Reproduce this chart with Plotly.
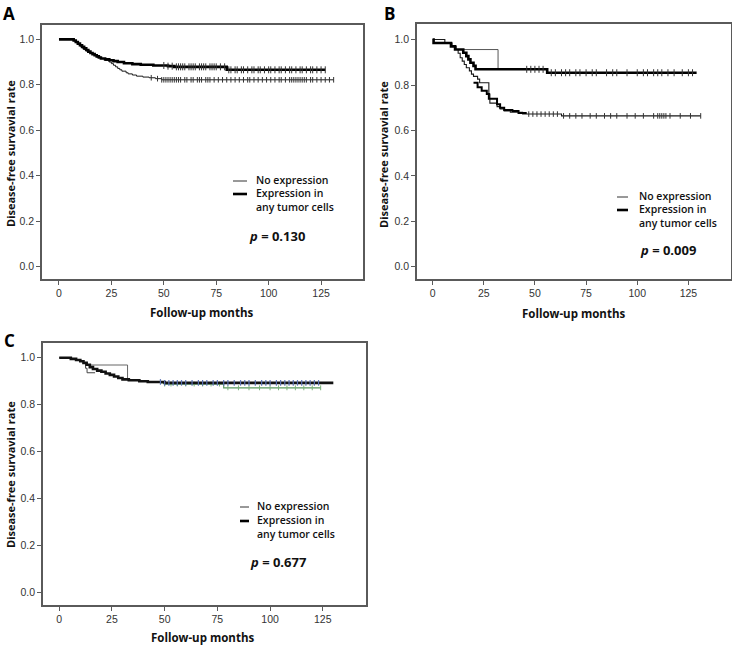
import plotly.graph_objects as go

# ---------------- data ----------------
# Panel A
a_no_t = [0, 7, 8, 9, 10, 11, 12, 13, 14, 16, 17, 18, 20, 22, 24, 25, 26, 27, 28, 29, 30, 32, 33, 35, 37, 40, 43, 46, 49]
a_no_s = [1.0, 0.993, 0.985, 0.978, 0.970, 0.962, 0.955, 0.948, 0.942, 0.935, 0.928, 0.922, 0.915, 0.907, 0.900, 0.893, 0.886, 0.879, 0.872, 0.866, 0.860, 0.853, 0.848, 0.843, 0.838, 0.834, 0.831, 0.827, 0.822]
a_no_end = 131
a_no_cens = [44, 47, 49, 50, 51, 52, 53, 54, 55, 56, 57, 58, 60, 61, 63, 64, 66, 67, 68, 70, 71, 72, 74, 76, 78, 80, 82, 84,
             86, 88, 90, 91, 93, 95, 97, 99, 101, 103, 105, 106, 108, 110, 111, 112, 113, 114, 115, 116, 117, 118, 120,
             121, 123, 125, 127, 129, 131]
a_ex_t = [0, 7, 8, 9, 10, 11, 12, 13, 14, 15, 16, 17, 18, 19, 20, 22, 24, 26, 28, 31, 35, 39, 45, 52, 55, 80]
a_ex_s = [1.0, 0.995, 0.988, 0.981, 0.974, 0.967, 0.960, 0.953, 0.946, 0.940, 0.935, 0.930, 0.925, 0.920, 0.916, 0.912, 0.908, 0.904, 0.900, 0.895, 0.891, 0.888, 0.885, 0.882, 0.879, 0.866]
a_ex_end = 127
a_ex_cens = [50, 52, 54, 56, 57, 58, 59, 60, 62, 63, 64, 65, 67, 68, 69, 70, 72, 73, 74, 75, 77, 79, 81, 82, 84, 85, 87, 88,
             90, 92, 93, 95, 96, 98, 100, 101, 103, 105, 106, 108, 110, 111, 113, 115, 116, 118, 120, 121, 123, 125, 127]

# Panel B
b_no_t = [0, 6, 9.5, 11.5, 12.5, 13.5, 14.5, 15.5, 16.5, 18, 19, 20, 22, 23, 27.5, 28, 31.5, 33, 35, 38, 44, 63]
b_no_s = [1.0, 0.985, 0.970, 0.956, 0.940, 0.920, 0.905, 0.890, 0.876, 0.862, 0.848, 0.838, 0.826, 0.810, 0.760, 0.720, 0.705, 0.695, 0.686, 0.680, 0.672, 0.664]
b_no_end = 131
b_no_cens = [47, 49, 51, 53, 55, 57, 59, 61, 64, 67, 70, 73, 77, 80, 84, 87, 90, 95, 99, 103, 108, 110, 111, 112, 113, 114,
             116, 121, 126, 131]
b_no2_t = [20, 22, 24, 26.5, 27.5, 31.5, 33, 35, 39, 42]
b_no2_s = [0.810, 0.790, 0.775, 0.760, 0.740, 0.715, 0.700, 0.690, 0.685, 0.677]
b_no2_end = 46
b_ex_t = [0, 0.5, 9, 11, 15, 16.5, 17.5, 18.5, 20, 21, 56]
b_ex_s = [1.0, 0.985, 0.970, 0.956, 0.942, 0.927, 0.913, 0.898, 0.884, 0.869, 0.854]
b_ex_end = 129
b_ex_cens = [46, 48, 50, 52, 54, 58, 60, 63, 65, 67, 70, 72, 75, 78, 80, 85, 88, 90, 95, 100, 103, 105, 108, 110, 112, 115,
             118, 122, 125, 127]
b_box_t = [15, 32, 32]
b_box_s = [0.956, 0.956, 0.869]

# Panel C
c_ex_t = [0, 5.5, 8, 10, 11.5, 13, 14.5, 16, 18, 20, 22, 24, 26, 28, 30, 33, 38, 42, 50]
c_ex_s = [1.0, 0.995, 0.990, 0.985, 0.978, 0.970, 0.960, 0.952, 0.945, 0.940, 0.933, 0.927, 0.920, 0.914, 0.908, 0.904, 0.900, 0.897, 0.893]
c_ex_end = 130
c_ex_cens = [48, 50, 52, 54, 56, 58, 60, 63, 66, 68, 70, 73, 75, 78, 80, 83, 86, 88, 90, 93, 96, 98, 100, 103, 105, 107,
             109, 111, 113, 115, 117, 119, 121, 123]
c_no_t = [0, 5.5, 8, 10, 11.5, 12.5, 13.2]
c_no_s = [1.0, 0.995, 0.990, 0.985, 0.978, 0.955, 0.936]
c_no_end = 17
c_box_t = [14, 32.4, 32.4]
c_box_s = [0.969, 0.969, 0.904]
c_gr_t = [48, 50, 78]
c_gr_s = [0.893, 0.888, 0.872]
c_gr_end = 124
c_gr_cens = [50, 53, 56, 60, 64, 68, 72, 76, 80, 85, 90, 95, 100, 104, 108, 112, 116, 120, 124]

p_values = ["0.130", "0.009", "0.677"]
panel_labels = ["A", "B", "C"]
x_ticks = [0, 25, 50, 75, 100, 125]
y_ticks = [0.0, 0.2, 0.4, 0.6, 0.8, 1.0]
x_title = "Follow-up months"
y_title = "Disease-free survavial rate"
legend_labels = ["No expression", "Expression in<br>any tumor cells"]


# ---------------- helpers ----------------
def step_xy(t, s, end):
    return list(t) + [end], list(s) + [s[-1]]


def surv_at(t, s, x):
    v = s[0]
    for ti, si in zip(t, s):
        if ti <= x:
            v = si
    return v


W, H = 732, 645
fig = go.Figure()


def add_curve(t, s, end, ax, color, width):
    x, y = step_xy(t, s, end)
    fig.add_trace(go.Scatter(x=x, y=y, mode="lines", line=dict(shape="hv", color=color, width=width),
                             xaxis=ax[0], yaxis=ax[1], showlegend=False, hoverinfo="skip"))


def add_cens(t, s, cens, ax, color, size, lw):
    fig.add_trace(go.Scatter(x=cens, y=[surv_at(t, s, c) for c in cens], mode="markers",
                             marker=dict(symbol="line-ns", size=size, line=dict(color=color, width=lw)),
                             xaxis=ax[0], yaxis=ax[1], showlegend=False, hoverinfo="skip"))


AX = [("x", "y"), ("x2", "y2"), ("x3", "y3")]
THIN, THICK = "#1a1a1a", "#000000"

# A
add_curve(a_no_t, a_no_s, a_no_end, AX[0], THIN, 1)
add_cens(a_no_t, a_no_s, a_no_cens, AX[0], "#333333", 4, 1)
add_curve(a_ex_t, a_ex_s, a_ex_end, AX[0], THICK, 2.6)
add_cens(a_ex_t, a_ex_s, a_ex_cens, AX[0], "#333333", 5, 1)
# B
add_curve(b_box_t, b_box_s, b_box_t[-1], AX[1], "#555555", 1)
add_curve(b_no_t, b_no_s, b_no_end, AX[1], THIN, 1.1)
add_curve(b_no2_t, b_no2_s, b_no2_end, AX[1], THICK, 2)
add_cens(b_no_t, b_no_s, b_no_cens, AX[1], "#333333", 4, 1)
add_curve(b_ex_t, b_ex_s, b_ex_end, AX[1], THICK, 2.6)
add_cens(b_ex_t, b_ex_s, b_ex_cens, AX[1], "#333333", 5, 1)
# C
add_curve(c_box_t, c_box_s, c_box_t[-1], AX[2], "#666666", 1)
add_curve(c_no_t, c_no_s, c_no_end, AX[2], "#444444", 1)
add_curve(c_gr_t, c_gr_s, c_gr_end, AX[2], "#5b9a60", 1.2)
add_cens(c_gr_t, c_gr_s, c_gr_cens, AX[2], "#7ab27a", 3.5, 1)
add_curve(c_ex_t, c_ex_s, c_ex_end, AX[2], "#111111", 2.6)
add_cens(c_ex_t, c_ex_s, c_ex_cens, AX[2], "#5a72b5", 4, 1.2)

# ---------------- layout ----------------
def px(x):
    return x / W


def py(y):
    return 1 - y / H


frames = [  # (left, right, top, bottom) in px
    (42, 363, 25, 279),
    (417, 731, 24, 279),
    (43, 366, 343, 605),
]
xranges = [[-8.1, 145], [-7.6, 145.8], [-7.7, 145.5]]
yranges = [[-0.054, 1.063], [-0.054, 1.0685], [-0.052, 1.0626]]

tickfont = dict(family="Liberation Sans, Arial", size=10.5, color="#333333")
axis_common = dict(showline=True, mirror=True, linecolor="#5a5a5a", linewidth=1.5, ticks="outside", ticklen=4,
                   tickcolor="#5a5a5a", tickwidth=1, showgrid=False, zeroline=False, tickfont=tickfont)

layout = dict(width=W, height=H, margin=dict(l=0, r=0, t=0, b=0), paper_bgcolor="white", plot_bgcolor="white",
              showlegend=False)
for i, (l, r, t, b) in enumerate(frames):
    sx = "" if i == 0 else str(i + 1)
    layout["xaxis" + sx] = dict(domain=[px(l), px(r)], range=xranges[i], tickvals=x_ticks, anchor="y" + sx,
                                **axis_common)
    layout["yaxis" + sx] = dict(domain=[py(b), py(t)], range=yranges[i], tickvals=y_ticks, tickformat=".1f",
                                anchor="x" + sx, **axis_common)
fig.update_layout(**layout)

title_font = dict(family="Open Sans", size=11.5, color="#111111", weight="bold")
ytitle_font = dict(family="Open Sans", size=11, color="#111111", weight="bold")
leg_font = dict(family="Open Sans", size=10.5, color="#111111", weight=600)
p_font = dict(family="Open Sans", size=13, color="#111111", weight="bold")
lab_font = dict(family="Open Sans", size=17, color="#000000", weight="bold")

# text positions per panel (px)
label_pos = [(9, 0), (389, 0), (9, 327)]
xt_pos = [(202, 312), (573, 313), (203, 637)]
yt_pos = [(10, 154), (383, 155), (10, 475)]
leg_pos = [  # (line_x0, line_x1, text_x, y_no, y_ex, y_any, p_x, p_y)
    (233, 247, 254, 180, 194, 207, 247, 236),
    (617, 628, 637, 196, 210, 223, 638, 250),
    (240, 249, 255, 506, 521, 533, 248, 562),
]

ann = []
shapes = []
for i in range(3):
    ann.append(dict(x=px(label_pos[i][0]), y=py(label_pos[i][1]), xref="paper", yref="paper", text=panel_labels[i],
                    showarrow=False, font=lab_font, xanchor="center", yanchor="top"))
    ann.append(dict(x=px(xt_pos[i][0]), y=py(xt_pos[i][1]), xref="paper", yref="paper", text=x_title,
                    showarrow=False, font=title_font, xanchor="center", yanchor="middle"))
    ann.append(dict(x=px(yt_pos[i][0]), y=py(yt_pos[i][1]), xref="paper", yref="paper", text=y_title,
                    showarrow=False, font=ytitle_font, textangle=-90, xanchor="center", yanchor="middle"))
    lx0, lx1, tx, yn, ye, ya, ppx, ppy = leg_pos[i]
    shapes.append(dict(type="line", xref="paper", yref="paper", x0=px(lx0), x1=px(lx1), y0=py(yn + 1), y1=py(yn + 1),
                       line=dict(color="#333333", width=1)))
    shapes.append(dict(type="line", xref="paper", yref="paper", x0=px(lx0), x1=px(lx1), y0=py(ye), y1=py(ye),
                       line=dict(color="#000000", width=2.6)))
    ann.append(dict(x=px(tx), y=py(yn), xref="paper", yref="paper", text=legend_labels[0], showarrow=False,
                    font=leg_font, xanchor="left", yanchor="middle"))
    ann.append(dict(x=px(tx), y=py((ye + ya) / 2), xref="paper", yref="paper", text=legend_labels[1],
                    showarrow=False, font=leg_font, xanchor="left", yanchor="middle", align="left"))
    ann.append(dict(x=px(ppx), y=py(ppy), xref="paper", yref="paper", text="<i>p</i> = " + p_values[i],
                    showarrow=False, font=p_font, xanchor="left", yanchor="middle"))

fig.update_layout(annotations=ann, shapes=shapes)
fig.write_html("out.html", config={"displayModeBar": False},
               post_script="document.body.style.margin='0px';")
